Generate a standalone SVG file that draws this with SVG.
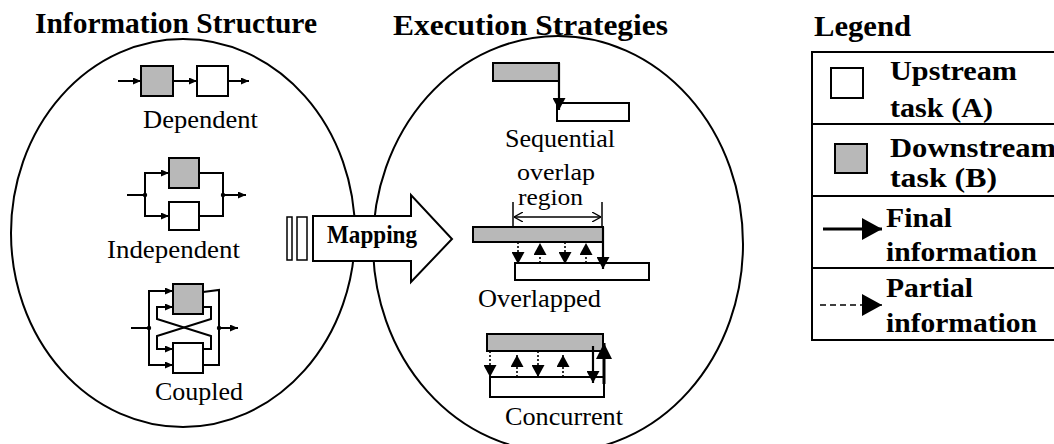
<svg xmlns="http://www.w3.org/2000/svg" width="1054" height="444" viewBox="0 0 1054 444">
<style>
text{font-family:"Liberation Serif","Times New Roman",serif;fill:#000}
.t{font-weight:bold;font-size:29px}
.b{font-weight:bold;font-size:27px}
.r{font-size:25px}
.rs{font-size:24px}
.ln{fill:none;stroke:#000;stroke-width:2}
.box{fill:#fff;stroke:#000;stroke-width:2}
.g{fill:#b8b8b8;stroke:#000;stroke-width:2}
.dot{fill:none;stroke:#000;stroke-width:1.6;stroke-dasharray:2 2}
.sol{fill:none;stroke:#000;stroke-width:2.2}
.ell{fill:none;stroke:#000;stroke-width:2}
</style>
<defs>
<marker id="sm" viewBox="0 0 8 7" refX="8" refY="3.5" markerWidth="8" markerHeight="7" markerUnits="userSpaceOnUse" orient="auto"><path d="M0,0 L8,3.5 L0,7 z" fill="#000"/></marker>
<marker id="md" viewBox="0 0 12 13" refX="12" refY="6.5" markerWidth="12" markerHeight="13" markerUnits="userSpaceOnUse" orient="auto"><path d="M0,0 L12,6.5 L0,13 z" fill="#000"/></marker>
<marker id="lg" viewBox="0 0 16 16" refX="16" refY="8" markerWidth="16" markerHeight="16" markerUnits="userSpaceOnUse" orient="auto"><path d="M0,0 L16,8 L0,16 z" fill="#000"/></marker>
<marker id="leg" viewBox="0 0 20 22" refX="20" refY="11" markerWidth="20" markerHeight="22" markerUnits="userSpaceOnUse" orient="auto"><path d="M0,0 L20,11 L0,22 z" fill="#000"/></marker>
<marker id="chev" viewBox="0 0 9 10" refX="9" refY="5" markerWidth="9" markerHeight="10" markerUnits="userSpaceOnUse" orient="auto-start-reverse"><path d="M0,0 L9,5 L0,10" fill="none" stroke="#000" stroke-width="1.3"/></marker>
</defs>

<g id="titles">
<text class="t" x="35" y="33" textLength="282" lengthAdjust="spacingAndGlyphs">Information Structure</text>
<text class="t" x="393" y="35" textLength="275" lengthAdjust="spacingAndGlyphs">Execution Strategies</text>
<text class="t" x="814" y="36" textLength="97" lengthAdjust="spacingAndGlyphs">Legend</text>
</g>

<g id="info-structure">
<ellipse class="ell" cx="183" cy="233" rx="172" ry="194"/>
</g>
<g id="execution-strategies">
<ellipse class="ell" cx="558" cy="244" rx="185" ry="208"/>
</g>

<g id="dependent">
<rect class="g" x="141" y="66" width="32" height="30"/>
<rect class="box" x="197" y="66" width="31" height="30"/>
<text class="r" x="143" y="128" textLength="115" lengthAdjust="spacingAndGlyphs">Dependent</text>
</g>
<g id="independent">
<rect class="g" x="169" y="158" width="30" height="30"/>
<rect class="box" x="169" y="202" width="30" height="28"/>
<circle cx="145" cy="195" r="2.2"/>
<circle cx="223" cy="195" r="2.2"/>
<text class="r" x="107" y="258" textLength="133" lengthAdjust="spacingAndGlyphs">Independent</text>
</g>
<g id="coupled">
<rect class="g" x="173" y="284" width="30" height="30"/>
<rect class="box" x="173" y="343" width="30" height="30"/>
<circle cx="149" cy="328" r="2.2"/>
<circle cx="219" cy="328" r="2.2"/>
<text class="r" x="155" y="400" textLength="88" lengthAdjust="spacingAndGlyphs">Coupled</text>
</g>

<g id="sequential">
<rect class="g" x="493" y="63" width="66" height="18"/>
<rect class="box" x="557" y="103" width="72" height="18"/>
<text class="r" x="505" y="147" textLength="110" lengthAdjust="spacingAndGlyphs">Sequential</text>
</g>
<g id="overlapped">
<rect class="g" x="473" y="227" width="130" height="15"/>
<rect class="box" x="515" y="263" width="134" height="17"/>
<text class="rs" x="517" y="180" textLength="78" lengthAdjust="spacingAndGlyphs">overlap</text>
<text class="rs" x="518" y="205" textLength="65" lengthAdjust="spacingAndGlyphs">region</text>
<text class="r" x="478" y="307" textLength="123" lengthAdjust="spacingAndGlyphs">Overlapped</text>
</g>
<g id="concurrent">
<rect class="g" x="487" y="334" width="116" height="17"/>
<rect class="box" x="490" y="377" width="114" height="20"/>
<text class="r" x="505" y="425" textLength="118" lengthAdjust="spacingAndGlyphs">Concurrent</text>
</g>

<g id="mapping">
<rect class="box" x="287" y="217" width="5" height="43" style="stroke-width:1.5"/>
<rect class="box" x="297" y="217" width="10" height="43" style="stroke-width:1.5"/>
<polygon class="box" points="313,216 411,216 411,195 452,239 411,282 411,261 313,261"/>
<text x="327" y="243" font-size="25" font-weight="bold" textLength="90" lengthAdjust="spacingAndGlyphs">Mapping</text>
</g>

<g id="legend">
<path class="ln" d="M1060,52 H812 V340 H1060 M812,124 H1060 M812,196 H1060 M812,268 H1060"/>
<rect class="box" x="831" y="68" width="32" height="30"/>
<rect class="g" x="835" y="144" width="32" height="29"/>
<text class="b" x="890" y="80" textLength="127" lengthAdjust="spacingAndGlyphs">Upstream</text>
<text class="b" x="890" y="117" textLength="103" lengthAdjust="spacingAndGlyphs">task (A)</text>
<text class="b" x="890" y="157" textLength="166" lengthAdjust="spacingAndGlyphs">Downstream</text>
<text class="b" x="890" y="187" textLength="107" lengthAdjust="spacingAndGlyphs">task (B)</text>
<text class="b" x="886" y="227" textLength="66" lengthAdjust="spacingAndGlyphs">Final</text>
<text class="b" x="886" y="261" textLength="151" lengthAdjust="spacingAndGlyphs">information</text>
<text class="b" x="886" y="297" textLength="87" lengthAdjust="spacingAndGlyphs">Partial</text>
<text class="b" x="886" y="332" textLength="151" lengthAdjust="spacingAndGlyphs">information</text>
</g>

<g id="connectors">
<path class="ln" d="M118,81 H141" marker-end="url(#sm)"/>
<path class="ln" d="M173,81 H197" marker-end="url(#sm)"/>
<path class="ln" d="M228,81 H249" marker-end="url(#sm)"/>
<path class="ln" d="M127,195 H145"/>
<path class="ln" d="M145,195 V173 H169" marker-end="url(#sm)"/>
<path class="ln" d="M145,195 V216 H169" marker-end="url(#sm)"/>
<path class="ln" d="M199,173 H223 V216 H199"/>
<path class="ln" d="M223,195 H246" marker-end="url(#sm)"/>
<path class="ln" d="M131,328 H149"/>
<path class="ln" d="M149,328 V291 H173" marker-end="url(#sm)"/>
<path class="ln" d="M149,328 V365 H173" marker-end="url(#sm)"/>
<path class="ln" d="M203,292 L219,290 V365 H203"/>
<path class="ln" d="M219,328 H238" marker-end="url(#sm)"/>
<path class="ln" d="M203,307 H211 V319 L157,336 V349 H173" marker-end="url(#sm)"/>
<path class="ln" d="M203,349 H211 V336 L157,319 V307 H173" marker-end="url(#sm)"/>
<path class="sol" d="M559,63 V110" marker-end="url(#md)"/>
<path d="M513,202 V227 M602,202 V227" stroke="#000" stroke-width="1.5" fill="none"/>
<path d="M514,217 H601" stroke="#000" stroke-width="1.5" fill="none" marker-start="url(#chev)" marker-end="url(#chev)"/>
<path class="dot" d="M518,242 V264" marker-end="url(#md)"/>
<path class="dot" d="M565,242 V264" marker-end="url(#md)"/>
<path class="dot" d="M540,263 V243" marker-end="url(#md)"/>
<path class="dot" d="M586,263 V243" marker-end="url(#md)"/>
<path class="sol" d="M603,227 V269" marker-end="url(#md)"/>
<path class="dot" d="M490,351 V377" marker-end="url(#md)"/>
<path class="dot" d="M538,351 V377" marker-end="url(#md)"/>
<path class="dot" d="M517,377 V355" marker-end="url(#md)"/>
<path class="dot" d="M563,377 V355" marker-end="url(#md)"/>
<path class="sol" d="M593,346 V383" marker-end="url(#md)"/>
<path d="M604,384 V343" stroke="#000" stroke-width="3" fill="none" marker-end="url(#lg)"/>
<path d="M823,229 H882" stroke="#000" stroke-width="3" fill="none" marker-end="url(#leg)"/>
<path d="M820,305 H882" stroke="#000" stroke-width="1.5" stroke-dasharray="6 4" fill="none" marker-end="url(#leg)"/>
</g>
</svg>
